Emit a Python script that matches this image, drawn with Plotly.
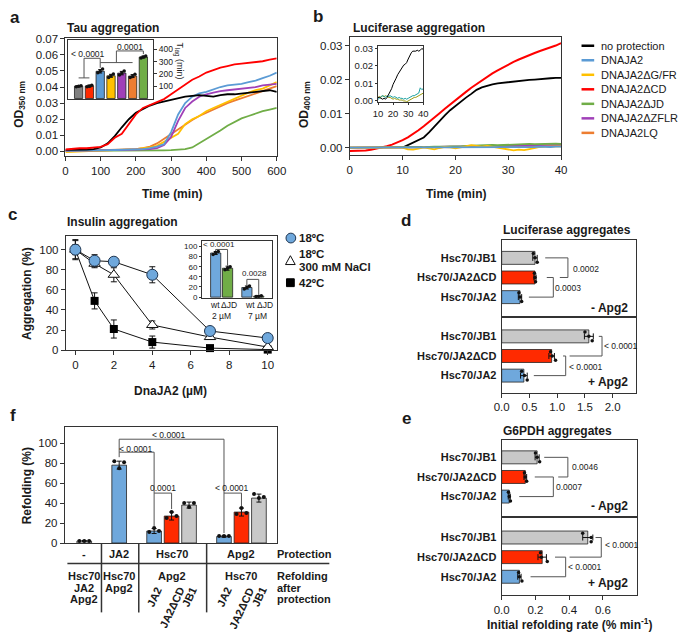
import plotly.graph_objects as go

# ===================== DATA =====================
# --- a: Tau aggregation (OD350) ---
TAU_TIME = list(range(0, 601, 20))
TAU_NO_PROT = [0.0010, 0.0010, 0.0010, 0.0012, 0.0015, 0.0025, 0.0050, 0.0095, 0.0150, 0.0200, 0.0240, 0.0265, 0.0285, 0.0300, 0.0310, 0.0320,
               0.0330, 0.0340, 0.0345, 0.0350, 0.0345, 0.0340, 0.0350, 0.0355, 0.0355, 0.0360, 0.0365, 0.0370, 0.0375, 0.0380, 0.0370]
TAU_DCD = [0.0012, 0.0018, 0.0020, 0.0020, 0.0022, 0.0028, 0.0045, 0.0085, 0.0110, 0.0170, 0.0230, 0.0270, 0.0290, 0.0305, 0.0325, 0.0355,
           0.0385, 0.0420, 0.0445, 0.0465, 0.0490, 0.0505, 0.0520, 0.0530, 0.0540, 0.0545, 0.0550, 0.0555, 0.0560, 0.0570, 0.0578]
TAU_JA2 = [0.0004, 0.0004, 0.0005, 0.0005, 0.0006, 0.0007, 0.0008, 0.0009, 0.0010, 0.0011, 0.0012, 0.0015, 0.0020, 0.0030, 0.0045, 0.0120,
           0.0230, 0.0300, 0.0340, 0.0360, 0.0370, 0.0385, 0.0400, 0.0410, 0.0415, 0.0420, 0.0430, 0.0440, 0.0455, 0.0470, 0.0490]
TAU_DZFLR = [0.0004, 0.0004, 0.0005, 0.0005, 0.0006, 0.0006, 0.0007, 0.0008, 0.0009, 0.0010, 0.0011, 0.0012, 0.0015, 0.0020, 0.0040, 0.0090,
             0.0190, 0.0270, 0.0310, 0.0340, 0.0355, 0.0365, 0.0375, 0.0380, 0.0385, 0.0390, 0.0395, 0.0400, 0.0410, 0.0415, 0.0420]
TAU_DGFR = [-0.0004, -0.0003, 0.0000, 0.0002, 0.0004, 0.0005, 0.0007, 0.0008, 0.0010, 0.0012, 0.0015, 0.0020, 0.0025, 0.0035, 0.0060, 0.0090,
            0.0110, 0.0170, 0.0200, 0.0220, 0.0250, 0.0270, 0.0290, 0.0310, 0.0330, 0.0350, 0.0365, 0.0380, 0.0390, 0.0410, 0.0430]
TAU_LQ = [0.0002, 0.0003, 0.0004, 0.0005, 0.0006, 0.0007, 0.0008, 0.0009, 0.0010, 0.0012, 0.0015, 0.0020, 0.0030, 0.0050, 0.0080, 0.0110,
          0.0140, 0.0170, 0.0195, 0.0220, 0.0240, 0.0260, 0.0280, 0.0300, 0.0315, 0.0330, 0.0345, 0.0360, 0.0375, 0.0390, 0.0405]
TAU_DJD = [0.0003, 0.0003, 0.0003, 0.0004, 0.0004, 0.0004, 0.0005, 0.0005, 0.0005, 0.0005, 0.0006, 0.0006, 0.0006, 0.0007, 0.0007, 0.0008,
           0.0010, 0.0015, 0.0025, 0.0050, 0.0080, 0.0105, 0.0130, 0.0160, 0.0185, 0.0205, 0.0220, 0.0235, 0.0250, 0.0260, 0.0270]

# a inset: T_lag (min)
TLAG_CONSTRUCTS = ["no protection", "DNAJA2ΔCD", "DNAJA2", "DNAJA2ΔG/FR", "DNAJA2ΔZFLR", "DNAJA2LQ", "DNAJA2ΔJD"]
TLAG_MEAN = [100, 102, 222, 185, 207, 183, 338]
TLAG_SD = [6, 8, 14, 12, 14, 12, 8]
TLAG_REPS = [[95, 100, 104], [96, 100, 108], [210, 222, 240], [172, 185, 200], [192, 207, 224], [172, 180, 198], [330, 338, 346]]

# --- b: Luciferase aggregation (OD400) ---
LUC_TIME = list(range(0, 41))
LUC_DCD = [-0.0010, -0.0010, -0.0009, -0.0008, -0.0006, -0.0003, 0.0000, 0.0004, 0.0009, 0.0015, 0.0022, 0.0030, 0.0040, 0.0051,
           0.0063, 0.0075, 0.0088, 0.0101, 0.0114, 0.0127, 0.0140, 0.0152, 0.0164, 0.0176, 0.0187, 0.0198, 0.0208, 0.0218,
           0.0227, 0.0236, 0.0244, 0.0252, 0.0259, 0.0266, 0.0272, 0.0278, 0.0284, 0.0289, 0.0294, 0.0300, 0.0307]
LUC_NOPROT_TIME = list(range(10, 41))
LUC_NOPROT = [0.0000, 0.0008, 0.0015, 0.0022, 0.0030, 0.0045, 0.0062, 0.0080, 0.0095, 0.0110, 0.0123, 0.0135, 0.0147, 0.0158,
              0.0170, 0.0177, 0.0182, 0.0186, 0.0189, 0.0191, 0.0192, 0.0194, 0.0195, 0.0197, 0.0199, 0.0200, 0.0202, 0.0203,
              0.0204, 0.0205, 0.0205]
LUC_JA2 = [0, 0, 0, 0, 0, 0, 0, 0, 0, 0, 0, 0.0000, 0.0000, 0.0000, 0.0001, 0.0000, 0.0000, 0.0001, 0.0001, 0.0000, 0.0001,
           0.0001, 0.0001, 0.0000, 0.0001, 0.0001, 0.0002, 0.0001, 0.0001, 0.0002, 0.0002, 0.0001, 0.0002, 0.0002, 0.0002, 0.0002,
           0.0003, 0.0002, 0.0002, 0.0003, 0.0003]
LUC_DGFR = [0, 0, 0, 0, 0, 0, 0, 0, 0, 0, 0, -0.0005, -0.0006, -0.0003, 0.0001, -0.0002, -0.0005, -0.0001, 0.0002, 0.0001, -0.0002,
            0.0001, 0.0004, 0.0007, 0.0005, 0.0003, 0.0005, 0.0002, -0.0001, -0.0004, -0.0007, -0.0008, -0.0006, -0.0007, -0.0004,
            0.0000, 0.0002, 0.0003, 0.0003, 0.0004, 0.0004]
LUC_DJD = [0, 0, 0, 0, 0, 0, 0, 0, 0, 0, 0, 0.0001, 0.0001, 0.0002, 0.0001, 0.0002, 0.0003, 0.0002, 0.0003, 0.0004, 0.0003,
           0.0004, 0.0005, 0.0006, 0.0005, 0.0006, 0.0007, 0.0008, 0.0007, 0.0008, 0.0009, 0.0010, 0.0009, 0.0010, 0.0011, 0.0010,
           0.0011, 0.0010, 0.0011, 0.0012, 0.0011]
LUC_DZFLR = [0, 0, 0, 0, 0, 0, 0, 0, 0, 0, 0, 0.0000, 0.0001, 0.0001, 0.0001, 0.0002, 0.0002, 0.0002, 0.0003, 0.0003, 0.0003,
             0.0003, 0.0004, 0.0004, 0.0004, 0.0005, 0.0005, 0.0005, 0.0005, 0.0006, 0.0006, 0.0006, 0.0006, 0.0007, 0.0007,
             0.0007, 0.0007, 0.0007, 0.0008, 0.0008, 0.0008]
LUC_LQ = [0, 0, 0, 0, 0, 0, 0, 0, 0, 0, 0, 0.0000, 0.0000, 0.0001, 0.0001, 0.0001, 0.0001, 0.0002, 0.0002, 0.0002, 0.0002,
          0.0002, 0.0003, 0.0003, 0.0003, 0.0003, 0.0003, 0.0004, 0.0004, 0.0004, 0.0004, 0.0004, 0.0004, 0.0005, 0.0005,
          0.0005, 0.0005, 0.0005, 0.0005, 0.0006, 0.0006]
# b inset
INSET_TIME = list(range(10, 41))
INSET_NOPROT = [0.0020, 0.0020, 0.0015, 0.0010, 0.0015, 0.0010, 0.0020, 0.0035, 0.0050, 0.0070, 0.0095, 0.0110, 0.0130, 0.0150,
                0.0165, 0.0180, 0.0190, 0.0205, 0.0210, 0.0220, 0.0240, 0.0260, 0.0275, 0.0285, 0.0285, 0.0285, 0.0290, 0.0285,
                0.0290, 0.0300, 0.0295]
INSET_TEAL = [0.0010, 0.0015, 0.0025, 0.0030, 0.0025, 0.0020, 0.0030, 0.0025, 0.0030, 0.0025, 0.0020, 0.0025, 0.0020, 0.0015,
              0.0020, 0.0015, 0.0015, 0.0010, 0.0015, 0.0010, 0.0015, 0.0020, 0.0025, 0.0030, 0.0030, 0.0035, 0.0040, 0.0045,
              0.0075, 0.0065, 0.0070]
INSET_OLIVE = [0.0020, 0.0025, 0.0020, 0.0030, 0.0025, 0.0030, 0.0025, 0.0020, 0.0020, 0.0015, 0.0010, 0.0015, 0.0010, 0.0010,
               0.0005, 0.0005, 0.0005, 0.0000, 0.0000, -0.0005, 0.0000, 0.0005, 0.0010, 0.0015, 0.0020, 0.0020, 0.0025, 0.0030,
               0.0035, 0.0040, 0.0045]

# --- c: Insulin aggregation ---
DNAJA2_UM = [0, 1, 2, 4, 7, 10]
AGG_18 = [100, 89, 88, 75, 19, 12]
ERR_18 = [10, 6, 3, 8, 2, 1]
AGG_NACL = [100, 86, 75, 25, 13, 3]
ERR_NACL = [5, 4, 7, 4, 2, 1]
AGG_42 = [100, 49, 21, 8, 2, 0.5]
ERR_42 = [9, 8, 9, 6, 1, 0.5]
# c inset
INS_BAR_LABELS = ["wt 2 µM", "ΔJD 2 µM", "wt 7 µM", "ΔJD 7 µM"]
INS_BAR_MEAN = [87, 57, 19, 2]
INS_BAR_SD = [3, 4, 3, 1]
INS_BAR_REPS = [[84, 88, 90], [54, 57, 60], [16, 19, 22], [1.5, 2, 3]]

# --- d / e: refolding rates (order: JB1, JA2ΔCD, JA2) ---
REF_PAIRS = ["Hsc70/JB1", "Hsc70/JA2ΔCD", "Hsc70/JA2"]
LUC_MINUS_MEAN = [0.60, 0.60, 0.33]
LUC_MINUS_SD = [0.04, 0.02, 0.03]
LUC_MINUS_REPS = [[0.57, 0.60, 0.64], [0.59, 0.60, 0.61], [0.31, 0.33, 0.36]]
LUC_PLUS_MEAN = [1.57, 0.90, 0.40]
LUC_PLUS_SD = [0.08, 0.05, 0.06]
LUC_PLUS_REPS = [[1.50, 1.57, 1.63], [0.88, 0.91, 0.97], [0.36, 0.41, 0.46]]
G6_MINUS_MEAN = [0.21, 0.14, 0.045]
G6_MINUS_SD = [0.012, 0.008, 0.006]
G6_MINUS_REPS = [[0.20, 0.21, 0.225], [0.135, 0.14, 0.148], [0.04, 0.045, 0.052]]
G6_PLUS_MEAN = [0.51, 0.24, 0.105]
G6_PLUS_SD = [0.03, 0.025, 0.01]
G6_PLUS_REPS = [[0.48, 0.53, 0.53], [0.23, 0.235, 0.27], [0.10, 0.105, 0.12]]

# --- f: refolding (%) ---
F_BARS = ["-", "JA2", "Hsc70:JA2", "Hsc70:JA2ΔCD", "Hsc70:JB1", "Apg2:JA2", "Apg2:JA2ΔCD", "Apg2:JB1"]
REF_MEAN = [2, 78, 12, 27, 38, 6.5, 31, 45]
REF_SD = [0.5, 4, 2.5, 4, 3, 0.8, 4, 4]
REF_REPS = [[2, 2, 2], [82, 75, 81], [11, 15, 12], [25, 31, 27], [40, 36, 40], [7, 7, 7], [29, 35, 30], [49, 45, 46]]

# ===================== STYLE / LAYOUT =====================
W, H = 685, 638
FONT = "Liberation Sans, Arial, sans-serif"
LC = "#333333"
BR = "#555555"
TXT = "#1a1a1a"
C_BLACK = "#000000"
C_BLUE_L = "#5b9bd5"
C_YEL = "#ffc000"
C_PUR = "#a040b8"
C_ORA = "#ed7d31"
C_GRN = "#70ad47"
C_RED_B = "#ff2a00"
C_BLUE_B = "#6fa8dc"
C_GRAY_D = "#808080"
C_GRAY_L = "#c8c8c8"


def dom_x(a, b):
    return [a / W, b / W]


def dom_y(top, bottom):
    return [1 - bottom / H, 1 - top / H]


def px(x):
    return x / W


def py(y):
    return 1 - y / H


def axis(domain, rng, anchor, **kw):
    d = dict(domain=domain, range=rng, anchor=anchor, showgrid=False, zeroline=False, showline=True,
             linecolor=LC, linewidth=1, mirror=True, ticks="outside", ticklen=4, tickwidth=1, tickcolor=LC,
             tickfont=dict(family=FONT, size=11.5, color=TXT), fixedrange=True)
    d.update(kw)
    return d


fig = go.Figure()
shapes = []
anns = []


def text(x, y, s, size=11, bold=False, xa="left", ya="middle", angle=0, color=TXT, xref="paper", yref="paper"):
    if bold:
        s = "<b>" + s + "</b>"
    anns.append(dict(x=px(x) if xref == "paper" else x, y=py(y) if yref == "paper" else y, xref=xref, yref=yref,
                     text=s, showarrow=False, xanchor=xa, yanchor=ya, textangle=angle, borderpad=0,
                     font=dict(family=FONT, size=size, color=color)))


def seg(xr, yr, pts, color=BR, width=1):
    for (x0, y0), (x1, y1) in zip(pts[:-1], pts[1:]):
        shapes.append(dict(type="line", xref=xr, yref=yr, x0=x0, y0=y0, x1=x1, y1=y1,
                           line=dict(color=color, width=width)))


def pseg(pts, color=LC, width=1.2):
    seg("paper", "paper", [(px(a), py(b)) for a, b in pts], color, width)


lay = {}
# ---- a ----
lay["xaxis"] = axis(dom_x(59, 276), [0, 600], "y", tickvals=list(range(0, 601, 100)))
lay["yaxis"] = axis(dom_y(33, 153), [-0.0029, 0.0702], "x", tickvals=[i / 100 for i in range(8)], tickformat=".2f")
lay["xaxis2"] = axis(dom_x(62, 149), [-0.95, 6.9], "y2", showticklabels=False, ticks="")
lay["yaxis2"] = axis(dom_y(35, 95), [-6, 474.5], "x2", side="right", tickvals=[100, 200, 300, 400], ticklen=3,
                     tickfont=dict(family=FONT, size=8.5, color=TXT))
# ---- b ----
lay["xaxis3"] = axis(dom_x(351, 568), [0, 40], "y3", tickvals=[0, 10, 20, 30, 40])
lay["yaxis3"] = axis(dom_y(32, 152), [-0.0022, 0.0324], "x3", tickvals=[0, 0.01, 0.02, 0.03], tickformat=".2f")
lay["xaxis4"] = axis(dom_x(380, 426.5), [10, 40], "y4", tickvals=[10, 20, 30, 40], ticklen=2,
                     tickfont=dict(family=FONT, size=9.5, color=TXT))
lay["yaxis4"] = axis(dom_y(40.5, 98), [-0.0007, 0.0316], "x4", tickvals=[0, 0.01, 0.02, 0.03], tickformat=".2f",
                     ticklen=2, tickfont=dict(family=FONT, size=9.5, color=TXT))
# ---- c ----
lay["xaxis5"] = axis(dom_x(59.3, 276), [-0.5, 10.47], "y5", tickvals=[0, 2, 4, 6, 8, 10])
lay["yaxis5"] = axis(dom_y(234, 350.7), [0, 114], "x5", tickvals=[0, 20, 40, 60, 80, 100])
lay["xaxis6"] = axis(dom_x(199.3, 271.5), [-1.15, 4.78], "y6", showticklabels=False, ticks="")
lay["yaxis6"] = axis(dom_y(240, 297.5), [-1.5, 109.7], "x6", tickvals=[0, 20, 40, 60, 80, 100], ticklen=2,
                     tickfont=dict(family=FONT, size=8, color=TXT))
# ---- d ----
CAT_TICKS = dict(tickvals=[2, 1, 0], ticktext=["<b>" + s + "</b>" for s in REF_PAIRS], ticks="",
                 tickfont=dict(family=FONT, size=11, color=TXT), ticklabelstandoff=2)
lay["xaxis7"] = axis(dom_x(507, 645), [0, 2.42], "y7", showticklabels=False, ticks="")
lay["yaxis7"] = axis(dom_y(238.3, 317.3), [-1.03, 2.92], "x7", **CAT_TICKS)
lay["xaxis8"] = axis(dom_x(507, 645), [0, 2.42], "y8", tickvals=[0, 0.5, 1, 1.5, 2], tickformat=".1f")
lay["yaxis8"] = axis(dom_y(317.3, 394), [-0.865, 2.97], "x8", **CAT_TICKS)
# ---- e ----
lay["xaxis9"] = axis(dom_x(507, 645.7), [0, 0.8], "y9", showticklabels=False, ticks="")
lay["yaxis9"] = axis(dom_y(442.7, 520.7), [-1.035, 2.865], "x9", **CAT_TICKS)
lay["xaxis10"] = axis(dom_x(507, 645.7), [0, 0.8], "y10", tickvals=[0, 0.2, 0.4, 0.6], tickformat=".1f")
lay["yaxis10"] = axis(dom_y(520.7, 600), [-0.915, 3.05], "x10", **CAT_TICKS)
# ---- f ----
lay["xaxis11"] = axis(dom_x(58.3, 276), [-0.115, 12.02], "y11", showticklabels=False, ticks="")
lay["yaxis11"] = axis(dom_y(429.3, 547.3), [0, 116], "x11", tickvals=[0, 20, 40, 60, 80, 100])

# ===================== TRACES =====================
# a main lines
for ys, col in [(TAU_DJD, C_GRN), (TAU_LQ, C_ORA), (TAU_DGFR, C_YEL), (TAU_DZFLR, C_PUR), (TAU_JA2, C_BLUE_L),
                (TAU_NO_PROT, C_BLACK), (TAU_DCD, "#ff0000")]:
    fig.add_trace(go.Scatter(x=TAU_TIME, y=ys, mode="lines", line=dict(color=col, width=1.8),
                             xaxis="x", yaxis="y", hoverinfo="skip"))

# a inset bars
TLAG_COLORS = [C_GRAY_D, C_RED_B, C_BLUE_L, C_YEL, C_PUR, C_ORA, C_GRN]
slots_a = list(range(len(TLAG_MEAN)))
fig.add_trace(go.Bar(x=slots_a, y=TLAG_MEAN, width=0.77, xaxis="x2", yaxis="y2",
                     marker=dict(color=TLAG_COLORS, line=dict(color="#222", width=0.8)),
                     error_y=dict(type="data", array=TLAG_SD, color="#111", thickness=1, width=2)))
OFF3 = [-0.22, 0.0, 0.22]
fig.add_trace(go.Scatter(x=[s + o for s in slots_a for o in OFF3], y=[v for r in TLAG_REPS for v in r],
                         mode="markers", marker=dict(size=3.5, color="#111"), xaxis="x2", yaxis="y2"))

# b main lines
fig.add_trace(go.Scatter(x=LUC_NOPROT_TIME, y=LUC_NOPROT, mode="lines", line=dict(color=C_BLACK, width=1.8),
                         xaxis="x3", yaxis="y3"))
fig.add_trace(go.Scatter(x=LUC_TIME, y=LUC_DCD, mode="lines", line=dict(color="#ff0000", width=2),
                         xaxis="x3", yaxis="y3"))
for ys, col in [(LUC_LQ, C_ORA), (LUC_DZFLR, C_PUR), (LUC_DJD, C_GRN), (LUC_DGFR, C_YEL), (LUC_JA2, C_BLUE_L)]:
    fig.add_trace(go.Scatter(x=LUC_TIME, y=ys, mode="lines", line=dict(color=col, width=1.8),
                             xaxis="x3", yaxis="y3"))
# b inset
for ys, col in [(INSET_OLIVE, "#9a9a10"), (INSET_TEAL, "#1aa0a0"), (INSET_NOPROT, "#000000")]:
    fig.add_trace(go.Scatter(x=INSET_TIME, y=ys, mode="lines", line=dict(color=col, width=1),
                             xaxis="x4", yaxis="y4"))

# c main
EB = lambda arr: dict(type="data", array=arr, color="#111", thickness=1, width=3)
fig.add_trace(go.Scatter(x=DNAJA2_UM, y=AGG_42, error_y=EB(ERR_42), mode="lines+markers",
                         line=dict(color="#111", width=1), cliponaxis=False,
                         marker=dict(symbol="square", size=8, color="#000"), xaxis="x5", yaxis="y5"))
fig.add_trace(go.Scatter(x=DNAJA2_UM, y=AGG_NACL, error_y=EB(ERR_NACL), mode="lines+markers",
                         line=dict(color="#111", width=1), cliponaxis=False,
                         marker=dict(symbol="triangle-up", size=10, color="white", line=dict(color="#111", width=1)),
                         xaxis="x5", yaxis="y5"))
fig.add_trace(go.Scatter(x=DNAJA2_UM, y=AGG_18, error_y=EB(ERR_18), mode="lines+markers",
                         line=dict(color="#111", width=1), cliponaxis=False,
                         marker=dict(symbol="circle", size=11, color=C_BLUE_B, line=dict(color="#1f3550", width=1)),
                         xaxis="x5", yaxis="y5"))
# c inset
SLOTS_C = [0, 1, 2.63, 3.63]
fig.add_trace(go.Bar(x=SLOTS_C, y=INS_BAR_MEAN, width=0.86, xaxis="x6", yaxis="y6",
                     marker=dict(color=[C_BLUE_B, C_GRN, C_BLUE_B, C_GRN], line=dict(color="#222", width=0.8)),
                     error_y=dict(type="data", array=INS_BAR_SD, color="#111", thickness=1, width=2)))
fig.add_trace(go.Scatter(x=[s + o for s in SLOTS_C for o in OFF3], y=[v for r in INS_BAR_REPS for v in r],
                         mode="markers", marker=dict(size=3.5, color="#111"), xaxis="x6", yaxis="y6", cliponaxis=False))

# d / e horizontal bars
HCOL = [C_GRAY_L, C_RED_B, C_BLUE_B]
YPOS = [2, 1, 0]
OFFY = [0.22, 0.0, -0.22]
for mean, sd, reps, xa, ya in [(LUC_MINUS_MEAN, LUC_MINUS_SD, LUC_MINUS_REPS, "x7", "y7"),
                               (LUC_PLUS_MEAN, LUC_PLUS_SD, LUC_PLUS_REPS, "x8", "y8"),
                               (G6_MINUS_MEAN, G6_MINUS_SD, G6_MINUS_REPS, "x9", "y9"),
                               (G6_PLUS_MEAN, G6_PLUS_SD, G6_PLUS_REPS, "x10", "y10")]:
    fig.add_trace(go.Bar(y=YPOS, x=mean, orientation="h", width=0.66, xaxis=xa, yaxis=ya,
                         marker=dict(color=HCOL, line=dict(color="#222", width=0.8)),
                         error_x=dict(type="data", array=sd, color="#111", thickness=1, width=3)))
    fig.add_trace(go.Scatter(x=[v for r in reps for v in r], y=[p + o for p in YPOS for o in OFFY],
                             mode="markers", marker=dict(size=3.5, color="#111"), xaxis=xa, yaxis=ya))

# f bars
F_SLOTS = [1, 3, 5, 6, 7, 9, 10, 11]
F_COLORS = ["#ffffff", C_BLUE_B, C_BLUE_B, C_RED_B, C_GRAY_L, C_BLUE_B, C_RED_B, C_GRAY_L]
fig.add_trace(go.Bar(x=F_SLOTS, y=REF_MEAN, width=0.84, xaxis="x11", yaxis="y11",
                     marker=dict(color=F_COLORS, line=dict(color="#222", width=0.8)),
                     error_y=dict(type="data", array=REF_SD, color="#111", thickness=1, width=2.5)))
OFFF = [-0.28, 0.0, 0.28]
fig.add_trace(go.Scatter(x=[s + o for s in F_SLOTS for o in OFFF], y=[v for r in REF_REPS for v in r],
                         mode="markers", marker=dict(size=4, color="#111"), xaxis="x11", yaxis="y11", cliponaxis=False))

# ===================== ANNOTATIONS / SHAPES =====================
# panel letters
for lab, x, y in [("a", 7, 12), ("b", 318, 11), ("c", 5, 213), ("d", 409, 219), ("e", 409, 420), ("f", 5, 417)]:
    text(x, y, lab, size=17, bold=True, xa="center")
# panel titles
text(60, 22.5, "Tau aggregation", 12, True)
text(353, 22.5, "Luciferase aggregation", 12, True)
text(60, 220, "Insulin aggregation", 12, True)
text(507, 228.5, "Luciferase aggregates", 12, True)
text(507, 433.5, "G6PDH aggregates", 12, True)
# axis titles
text(168, 191.5, "Time (min)", 12, True, xa="center")
text(460, 191.5, "Time (min)", 12, True, xa="center")
text(12, 100, "OD<sub>350 nm</sub>", 12, True, xa="center", angle=-90)
text(305, 100, "OD<sub>400 nm</sub>", 12, True, xa="center", angle=-90)
text(20, 293, "Aggregation (%)", 12, True, xa="center", angle=-90)
text(167, 392, "DnaJA2 (µM)", 12, True, xa="center")
text(19, 489, "Refolding (%)", 12, True, xa="center", angle=-90)
text(577, 630, "Initial refolding rate (% min<sup>-1</sup>)", 12, True, xa="center")
text(176, 56, "T<sub>lag</sub> (min)", 9, False, xa="center", angle=90)

# a inset brackets
seg("x2", "y2", [(0, 168), (1, 168)])
seg("x2", "y2", [(0.5, 168), (0.5, 328), (2, 328), (2, 250)])
seg("x2", "y2", [(2, 293), (5, 293)])
seg("x2", "y2", [(3.5, 293), (3.5, 388), (6, 388), (6, 362)])
text(82, 48.5, "&lt; 0.0001", 8.5, xa="center")
text(125, 41.5, "0.0001", 8.5, xa="center")

# b legend
LEG = [("no protection", C_BLACK), ("DNAJA2", C_BLUE_L), ("DNAJA2ΔG/FR", C_YEL), ("DNAJA2ΔCD", "#ff0000"),
       ("DNAJA2ΔJD", C_GRN), ("DNAJA2ΔZFLR", C_PUR), ("DNAJA2LQ", C_ORA)]
for i, (name, col) in enumerate(LEG):
    yy = 40.5 + 14.8 * i
    pseg([(589, yy), (602, yy)], color=col, width=2.5)
    text(608, yy, name, 11)

# c inset brackets + labels
seg("x6", "y6", [(0, 91), (0, 94), (1, 94), (1, 62)])
seg("x6", "y6", [(2.63, 23), (2.63, 35), (3.63, 35), (3.63, 5)])
text(217, 243.5, "&lt; 0.0001", 8, xa="center")
text(253.5, 272.3, "0.0028", 8, xa="center")
for xx, lab in zip([212.5, 227, 249, 263.5], ["wt", "ΔJD", "wt", "ΔJD"]):
    text(xx, 305, lab, 8.5, xa="center")
text(219.5, 315.5, "2 µM", 8.5, xa="center")
text(256, 315.5, "7 µM", 8.5, xa="center")

# c legend
shapes.append(dict(type="circle", xref="paper", yref="paper", x0=px(285.5), x1=px(295.5), y0=py(241.5), y1=py(231.5),
                   fillcolor=C_BLUE_B, line=dict(color="#1f3550", width=1)))
tri = "M {} {} L {} {} L {} {} Z".format(px(285), py(263.5), px(295), py(263.5), px(290), py(254.5))
shapes.append(dict(type="path", xref="paper", yref="paper", path=tri, fillcolor="white",
                   line=dict(color="#111", width=1)))
shapes.append(dict(type="rect", xref="paper", yref="paper", x0=px(286), x1=px(294), y0=py(286), y1=py(278),
                   fillcolor="#000", line=dict(color="#000", width=1)))
text(297.5, 236.5, "18ºC", 11.5, True)
text(297.5, 252.5, "18ºC", 11.5, True)
text(297.5, 265.5, "300 mM NaCl", 11.5, True)
text(297.5, 282, "42ºC", 11.5, True)

# d brackets
seg("x7", "y7", [(0.784, 2), (1.193, 2), (1.193, 1), (1.047, 1)])
seg("x7", "y7", [(0.812, 1), (0.93, 1), (0.93, 0), (0.49, 0)])
text(1.268, 1.45, "0.0002", 8.5, xref="x7", yref="y7")
text(0.95, 0.45, "0.0003", 8.5, xref="x7", yref="y7")
seg("x8", "y8", [(1.749, 2), (1.807, 2), (1.807, 1), (1.223, 1)])
seg("x8", "y8", [(1.105, 1), (1.153, 1), (1.153, 0), (0.579, 0)])
text(1.83, 1.5, "&lt; 0.0001", 8.5, xref="x8", yref="y8")
text(1.195, 0.45, "&lt; 0.0001", 8.5, xref="x8", yref="y8")
text(638, 307.5, "- Apg2", 12, True, xa="right")
text(638, 383.5, "+ Apg2", 12, True, xa="right")
# e brackets
seg("x9", "y9", [(0.252, 2), (0.392, 2), (0.392, 1), (0.335, 1)])
seg("x9", "y9", [(0.196, 1), (0.306, 1), (0.306, 0), (0.104, 0)])
text(0.411, 1.5, "0.0046", 8.5, xref="x9", yref="y9")
text(0.316, 0.5, "0.0007", 8.5, xref="x9", yref="y9")
seg("x10", "y10", [(0.556, 2), (0.590, 2), (0.590, 1), (0.402, 1)])
seg("x10", "y10", [(0.316, 1), (0.379, 1), (0.379, 0), (0.171, 0)])
text(0.604, 1.6, "&lt; 0.0001", 8.5, xref="x10", yref="y10")
text(0.388, 0.5, "&lt; 0.0001", 8.5, xref="x10", yref="y10")
text(638, 510, "- Apg2", 12, True, xa="right")
text(638, 588.5, "+ Apg2", 12, True, xa="right")

# f brackets
seg("x11", "y11", [(3, 91), (3, 104), (9, 104), (9, 10)])
seg("x11", "y11", [(3, 86), (3, 91), (5, 91), (5, 17)])
seg("x11", "y11", [(5, 50), (6, 50), (6, 34)])
seg("x11", "y11", [(9, 50), (10, 50), (10, 37)])
text(165.5, 437.5, "&lt; 0.0001", 8.5, xa="center")
text(131.7, 451.5, "&lt; 0.0001", 8.5, xa="center")
text(159.2, 491, "0.0001", 8.5, xa="center")
text(230.5, 491, "&lt; 0.0001", 8.5, xa="center")

# f table
pseg([(61, 568.3), (330, 568.3)], width=1.5)
for xx in [96, 134.3, 204]:
    pseg([(xx, 547.3), (xx, 618)], width=1.5)
for s, lab in zip([1, 3, 6, 10], ["-", "JA2", "Hsc70", "Apg2"]):
    text(s, 559, lab, 11, True, xa="center", xref="x11")
text(275, 559, "Protection", 11, True)
for s, lines in zip([1, 3, 6, 10], [["Hsc70", "JA2", "Apg2"], ["Hsc70", "Apg2"], ["Apg2"], ["Hsc70"]]):
    for k, l in enumerate(lines):
        text(s, 581 + 11.7 * k, l, 11, True, xa="center", xref="x11")
for k, l in enumerate(["Refolding", "after", "protection"]):
    text(275, 581 + 11.7 * k, l, 11, True)
for s, lab in zip([5, 6, 7, 9, 10, 11], ["JA2", "JA2ΔCD", "JB1", "JA2", "JA2ΔCD", "JB1"]):
    text(s, 589, lab, 11, True, xa="center", ya="top", angle=-65, xref="x11")

lay.update(dict(width=W, height=H, autosize=False, margin=dict(l=0, r=0, t=0, b=0),
                paper_bgcolor="white", plot_bgcolor="white", showlegend=False, barmode="overlay",
                shapes=shapes, annotations=anns, font=dict(family=FONT, color=TXT)))
fig.update_layout(**lay)
fig.write_html("out.html", config={"displayModeBar": False},
               post_script="document.body.style.margin='0px';")
